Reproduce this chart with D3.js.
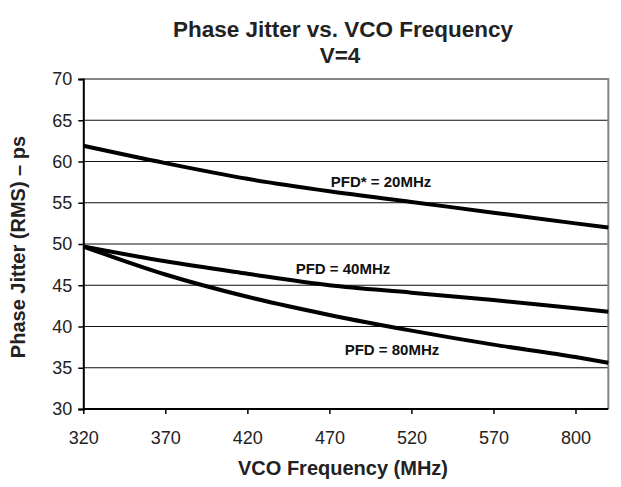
<!DOCTYPE html>
<html>
<head>
<meta charset="utf-8">
<script src="https://cdn.jsdelivr.net/npm/d3@7/dist/d3.min.js"></script>
<style>
  html, body { margin: 0; padding: 0; background: #fff; }
  svg { display: block; font-family: "Liberation Sans", Arial, sans-serif; }
</style>
</head>
<body>
<svg id="chart" width="621" height="487"></svg>
<script>
// ---- data ----
const freqs = [320, 370, 420, 470, 520, 570, 620, 640];
const pfd20 = [61.9, 59.8, 57.9, 56.4, 55.1, 53.8, 52.5, 52.0];
const pfd40 = [49.7, 47.9, 46.4, 45.0, 44.1, 43.2, 42.2, 41.8];
const pfd80 = [49.7, 46.3, 43.6, 41.4, 39.5, 37.8, 36.3, 35.6];
const xTickValues = [320, 370, 420, 470, 520, 570, 620];
const xTickLabels = ["320", "370", "420", "470", "520", "570", "800"];
const yTicks = [30, 35, 40, 45, 50, 55, 60, 65, 70];
const seriesNames = ["PFD* = 20MHz", "PFD = 40MHz", "PFD = 80MHz"];

const svg = d3.select("#chart");
const mLeft = 83.3, mRight = 608.3, mTop = 79, mBottom = 409;
const FONT = "Liberation Sans, Arial, sans-serif";

const x = d3.scaleLinear().domain([320, 640]).range([mLeft, mRight]);
const y = d3.scaleLinear().domain([30, 70]).range([mBottom, mTop]);

// gridlines
svg.append("g").selectAll("line")
  .data(yTicks.filter(v => v > 30 && v < 70))
  .join("line")
  .attr("x1", mLeft).attr("x2", mRight)
  .attr("y1", d => y(d)).attr("y2", d => y(d))
  .attr("stroke", "#111").attr("stroke-width", 1.1);

// top and right border (gray)
svg.append("path")
  .attr("d", `M${mLeft},${y(70)}H${mRight}V${mBottom}`)
  .attr("fill", "none").attr("stroke", "#858585").attr("stroke-width", 2);

// y axis
const yAxis = svg.append("g")
  .attr("transform", `translate(${mLeft},0)`)
  .call(d3.axisLeft(y).tickValues(yTicks).tickSize(5).tickPadding(6).tickFormat(d3.format("d")));
yAxis.select(".domain").attr("stroke", "#000").attr("stroke-width", 2);
yAxis.selectAll(".tick line").attr("stroke", "#000").attr("stroke-width", 1.5);
yAxis.selectAll("text").attr("font-size", 18).attr("fill", "#222")
  .attr("font-family", FONT);

// x axis
const xAxis = svg.append("g")
  .attr("transform", `translate(0,${mBottom})`)
  .call(d3.axisBottom(x).tickValues(xTickValues).tickSize(5).tickPadding(17)
    .tickFormat((d, i) => xTickLabels[i]));
xAxis.select(".domain").attr("stroke", "#000").attr("stroke-width", 2)
  .attr("d", `M${mLeft},0H${mRight}`);
xAxis.selectAll(".tick line").attr("stroke", "#000").attr("stroke-width", 1.5);
xAxis.selectAll("text").attr("font-size", 18).attr("fill", "#222")
  .attr("font-family", FONT);

// lines
const line = d3.line()
  .x((d, i) => x(freqs[i]))
  .y(d => y(d))
  .curve(d3.curveMonotoneX);

[pfd20, pfd40, pfd80].forEach(s => {
  svg.append("path")
    .datum(s)
    .attr("d", line)
    .attr("fill", "none")
    .attr("stroke", "#000")
    .attr("stroke-width", 4)
    .attr("stroke-linejoin", "round");
});

// series labels
const labelPos = [
  { x: 381, y: 187 },
  { x: 343, y: 274 },
  { x: 392, y: 355 }
];
svg.append("g").selectAll("text")
  .data(seriesNames)
  .join("text")
  .attr("x", (d, i) => labelPos[i].x)
  .attr("y", (d, i) => labelPos[i].y)
  .attr("text-anchor", "middle")
  .attr("font-size", 15)
  .attr("font-weight", "bold")
  .attr("fill", "#111")
  .text(d => d);

// titles
svg.append("text").attr("x", 343).attr("y", 37).attr("text-anchor", "middle")
  .attr("font-size", 22.5).attr("font-weight", "bold").attr("fill", "#222")
  .text("Phase Jitter vs. VCO Frequency");
svg.append("text").attr("x", 340).attr("y", 63).attr("text-anchor", "middle")
  .attr("font-size", 22.5).attr("font-weight", "bold").attr("fill", "#222")
  .text("V=4");

svg.append("text").attr("x", 343).attr("y", 475).attr("text-anchor", "middle")
  .attr("font-size", 20).attr("font-weight", "bold").attr("fill", "#222")
  .text("VCO Frequency (MHz)");

svg.append("text")
  .attr("transform", `translate(25,247) rotate(-90)`)
  .attr("text-anchor", "middle")
  .attr("font-size", 20).attr("font-weight", "bold").attr("fill", "#222")
  .text("Phase Jitter (RMS) – ps");
</script>
</body>
</html>
